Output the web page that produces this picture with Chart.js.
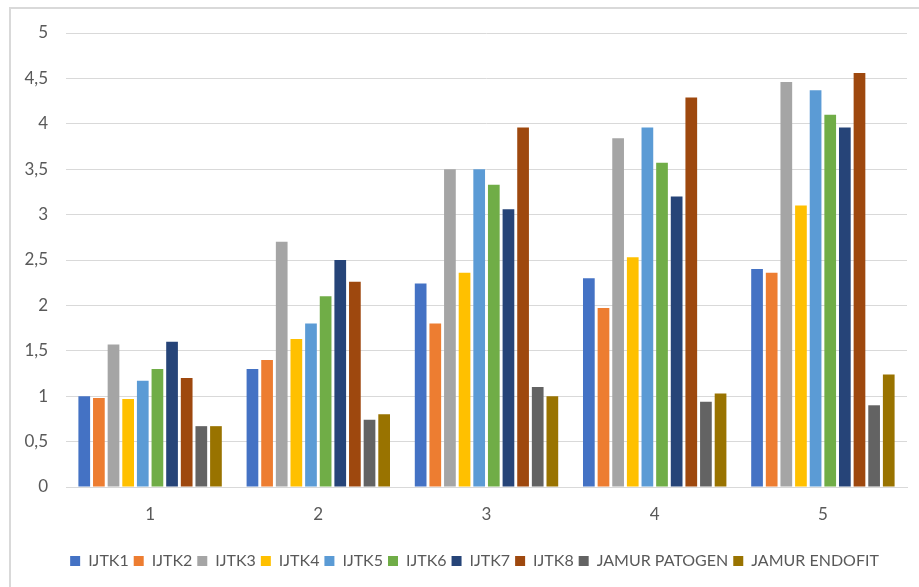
<!DOCTYPE html>
<html>
<head>
<meta charset="utf-8">
<script src="https://cdn.jsdelivr.net/npm/chart.js@4"></script>
<style>
  html, body { margin: 0; padding: 0; background: #fff; overflow: hidden; width: 919px; height: 587px; }
  #frame { position: absolute; left: 9px; top: 7px; width: 940px; height: 600px; border: 2px solid #d9d9d9; box-sizing: border-box; }
  #wrap { position: absolute; left: 10px; top: 8px; width: 929px; height: 579px; }
</style>
</head>
<body>
<div id="frame"></div>
<div id="wrap"><canvas id="chart" width="929" height="579"></canvas></div>
<script>
const categories = ["1", "2", "3", "4", "5"];
const seriesNames = ["IJTK1", "IJTK2", "IJTK3", "IJTK4", "IJTK5", "IJTK6", "IJTK7", "IJTK8", "JAMUR PATOGEN", "JAMUR ENDOFIT"];
const ijtk1 = [1.0, 1.3, 2.24, 2.3, 2.4];
const ijtk2 = [0.98, 1.4, 1.8, 1.97, 2.36];
const ijtk3 = [1.57, 2.7, 3.5, 3.84, 4.46];
const ijtk4 = [0.97, 1.63, 2.36, 2.53, 3.1];
const ijtk5 = [1.17, 1.8, 3.5, 3.96, 4.37];
const ijtk6 = [1.3, 2.1, 3.33, 3.57, 4.1];
const ijtk7 = [1.6, 2.5, 3.06, 3.2, 3.96];
const ijtk8 = [1.2, 2.26, 3.96, 4.29, 4.56];
const jamurPatogen = [0.67, 0.74, 1.1, 0.94, 0.9];
const jamurEndofit = [0.67, 0.8, 1.0, 1.03, 1.24];
const yTicks = [0, 0.5, 1, 1.5, 2, 2.5, 3, 3.5, 4, 4.5, 5];

const seriesValues = [ijtk1, ijtk2, ijtk3, ijtk4, ijtk5, ijtk6, ijtk7, ijtk8, jamurPatogen, jamurEndofit];
const colors = ["#4472C4", "#ED7D31", "#A5A5A5", "#FFC000", "#5B9BD5", "#70AD47", "#264478", "#9E480E", "#636363", "#997300"];

const textColor = "#595959";
const gridColor = "#d9d9d9";
const family = "Lato, 'Liberation Sans', sans-serif";

const ctx = document.getElementById("chart").getContext("2d");
new Chart(ctx, {
  type: "bar",
  data: {
    labels: categories,
    datasets: seriesNames.map((name, i) => ({
      label: name,
      data: seriesValues[i],
      backgroundColor: colors[i],
      borderWidth: 0,
      categoryPercentage: 0.87,
      barPercentage: 0.8
    }))
  },
  options: {
    responsive: false,
    animation: false,
    layout: { padding: { left: 0, right: 0, top: 25, bottom: 8 } },
    scales: {
      x: {
        grid: { display: false, drawTicks: false },
        border: { color: gridColor, width: 1 },
        ticks: { color: textColor, font: { family: family, size: 17 }, padding: 17 },
        afterFit: s => { s.height = 61; }
      },
      y: {
        min: 0,
        max: 5,
        afterBuildTicks: s => { s.ticks = yTicks.map(v => ({ value: v })); },
        // invisible tick marks push the labels left without padding the top
        grid: { color: gridColor, lineWidth: 1, drawTicks: true, tickLength: 16, tickColor: "rgba(0,0,0,0)" },
        border: { display: false },
        ticks: {
          color: textColor,
          font: { family: family, size: 17 },
          padding: 2,
          callback: v => String(v).replace(".", ",")
        },
        afterFit: s => { s.width = 56; }
      },
      yRight: {
        position: "right",
        grid: { display: false, drawTicks: false },
        border: { display: false },
        ticks: { display: false },
        afterFit: s => { s.width = 32; }
      }
    },
    plugins: {
      legend: {
        position: "bottom",
        labels: {
          color: textColor,
          font: { family: family, size: 16 },
          boxWidth: 10,
          boxHeight: 10,
          padding: 5
        }
      },
      tooltip: { enabled: false }
    }
  }
});
</script>
</body>
</html>
